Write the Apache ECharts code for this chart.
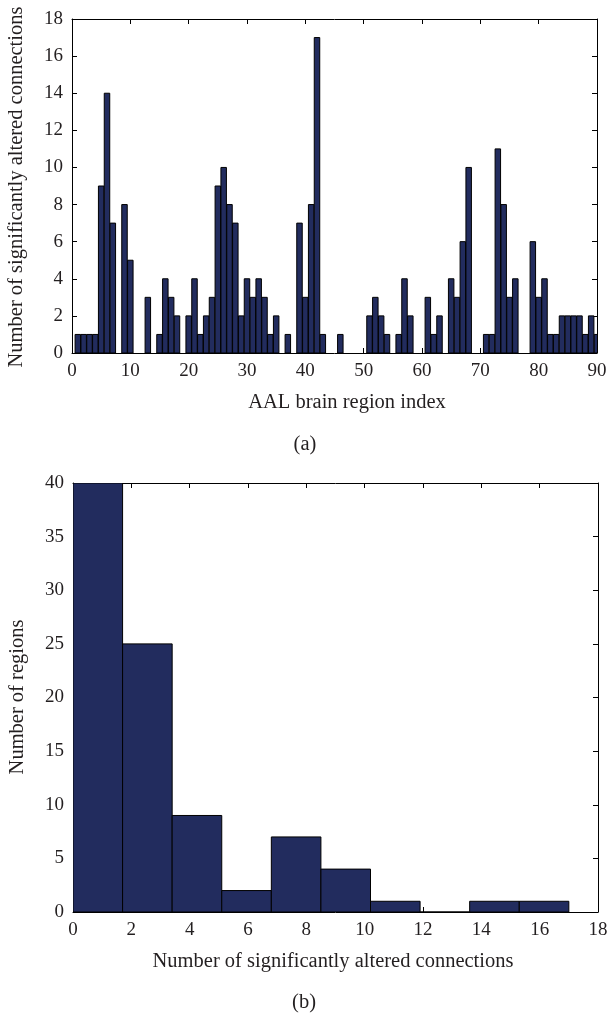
<!DOCTYPE html>
<html><head><meta charset="utf-8">
<script src="https://cdn.jsdelivr.net/npm/echarts@6/dist/echarts.min.js"></script>
<style>html,body{margin:0;padding:0;background:#fff}#c{width:611px;height:1017px}</style>
</head><body><div id="c"></div>
<script>
// (a) number of significantly altered connections per AAL region (index 1..90)
const regionIndex = [];
for (let i = 1; i <= 90; i++) regionIndex.push(i);
const alteredCounts = [
  1, 1, 1, 1, 9, 14, 7, 0, 8, 5,
  0, 0, 3, 0, 1, 4, 3, 2, 0, 2,
  4, 1, 2, 3, 9, 10, 8, 7, 2, 4,
  3, 4, 3, 1, 2, 0, 1, 0, 7, 3,
  8, 17, 1, 0, 0, 1, 0, 0, 0, 0,
  2, 3, 2, 1, 0, 1, 4, 2, 0, 0,
  3, 1, 2, 0, 4, 3, 6, 10, 0, 0,
  1, 1, 11, 8, 3, 4, 0, 0, 6, 3,
  4, 1, 1, 2, 2, 2, 2, 1, 2, 1
];
// (b) histogram of the counts above
const binEdges = [0, 1.7, 3.4, 5.1, 6.8, 8.5, 10.2, 11.9, 13.6, 15.3, 17];
const binCounts = [40, 25, 9, 2, 7, 4, 1, 0, 1, 1];

const xTicksA = { min: 0, max: 90, interval: 10 };
const yTicksA = { min: 0, max: 18, interval: 2 };
const xTicksB = { min: 0, max: 18, interval: 2 };
const yTicksB = { min: 0, max: 40, interval: 5 };

const FONT = 'Liberation Serif';
const TXT = '#231f20';
const FILL = '#222c5e';
const TICK_FS = 19;
const TITLE_FS = 20.5;

const chart = echarts.init(document.getElementById('c'), null, { renderer: 'canvas' });

function axisX(grid, t, pos, showLabel) {
  return {
    type: 'value', gridIndex: grid, position: pos, min: t.min, max: t.max, interval: t.interval,
    axisLine: { show: true, onZero: false, lineStyle: { color: '#000', width: 1 } },
    axisTick: { show: true, inside: true, length: 5, lineStyle: { color: '#000' } },
    axisLabel: { show: showLabel, color: TXT, fontFamily: FONT, fontSize: TICK_FS, margin: 9 },
    splitLine: { show: false }
  };
}
function axisY(grid, t, pos, showLabel) {
  return {
    type: 'value', gridIndex: grid, position: pos, min: t.min, max: t.max, interval: t.interval,
    axisLine: { show: true, onZero: false, lineStyle: { color: '#000', width: 1 } },
    axisTick: { show: true, inside: true, length: 5, lineStyle: { color: '#000' } },
    axisLabel: { show: showLabel, color: TXT, fontFamily: FONT, fontSize: TICK_FS, margin: 9 },
    splitLine: { show: false }
  };
}

const dataA = regionIndex.map((x, i) => [x, alteredCounts[i]]);
const dataB = binCounts.map((c, i) => [binEdges[i], binEdges[i + 1], c]);

chart.setOption({
  animation: false,
  backgroundColor: '#fff',
  grid: [
    { left: 72, right: 14, top: 19, height: 334, show: false },
    { left: 73, right: 13, top: 483, height: 429, show: false }
  ],
  xAxis: [
    axisX(0, xTicksA, 'bottom', true), axisX(0, xTicksA, 'top', false),
    axisX(1, xTicksB, 'bottom', true), axisX(1, xTicksB, 'top', false)
  ],
  yAxis: [
    axisY(0, yTicksA, 'left', true), axisY(0, yTicksA, 'right', false),
    axisY(1, yTicksB, 'left', true), axisY(1, yTicksB, 'right', false)
  ],
  series: [
    {
      type: 'custom', xAxisIndex: 0, yAxisIndex: 0, data: dataA, clip: true,
      renderItem: function (params, api) {
        const x = api.value(0), v = api.value(1);
        if (!v) return null;
        const p0 = api.coord([x - 0.47, 0]);
        const p1 = api.coord([x + 0.47, v]);
        return { type: 'rect', shape: { x: p0[0], y: p1[1], width: p1[0] - p0[0], height: p0[1] - p1[1] },
          style: { fill: FILL, stroke: '#000', lineWidth: 1 } };
      }
    },
    {
      type: 'custom', xAxisIndex: 2, yAxisIndex: 2, data: dataB, clip: true,
      renderItem: function (params, api) {
        const a = api.value(0), b = api.value(1), c = api.value(2);
        const p0 = api.coord([a, 0]);
        const p1 = api.coord([b, c]);
        return { type: 'rect', shape: { x: p0[0], y: p1[1], width: p1[0] - p0[0], height: p0[1] - p1[1] },
          style: { fill: FILL, stroke: '#000', lineWidth: 1 } };
      }
    }
  ],
  graphic: [
    { type: 'text', x: 347, y: 403, style: { text: 'AAL brain region index', font: TITLE_FS + 'px ' + FONT, fill: TXT, align: 'center', verticalAlign: 'middle' } },
    { type: 'text', x: 305, y: 445, style: { text: '(a)', font: TITLE_FS + 'px ' + FONT, fill: TXT, align: 'center', verticalAlign: 'middle' } },
    { type: 'text', x: 17, y: 187, rotation: Math.PI / 2, style: { text: 'Number of significantly altered connections', font: TITLE_FS + 'px ' + FONT, fill: TXT, align: 'center', verticalAlign: 'middle' } },
    { type: 'text', x: 333, y: 962, style: { text: 'Number of significantly altered connections', font: TITLE_FS + 'px ' + FONT, fill: TXT, align: 'center', verticalAlign: 'middle' } },
    { type: 'text', x: 304, y: 1003, style: { text: '(b)', font: TITLE_FS + 'px ' + FONT, fill: TXT, align: 'center', verticalAlign: 'middle' } },
    { type: 'text', x: 18, y: 697, rotation: Math.PI / 2, style: { text: 'Number of regions', font: TITLE_FS + 'px ' + FONT, fill: TXT, align: 'center', verticalAlign: 'middle' } }
  ]
});
</script>
</body></html>
